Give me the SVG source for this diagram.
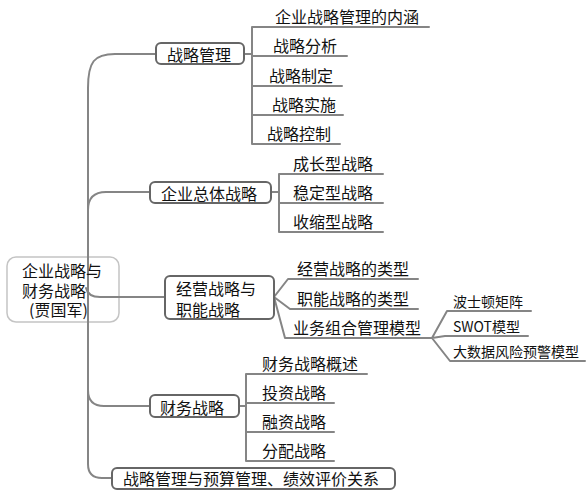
<svg xmlns="http://www.w3.org/2000/svg" width="587" height="495" viewBox="0 0 587 495">
<style>
.bg{fill:#ffffff}
.box{fill:#ffffff;stroke:#666666;stroke-width:2}
.root{fill:#ffffff;stroke:#c4c4c4;stroke-width:1.5}
.ln{fill:none;stroke:#858585;stroke-width:2;stroke-linecap:round;stroke-linejoin:round}
.t{font-family:"Microsoft YaHei","Noto Sans CJK SC","Noto Sans",sans-serif;font-size:16px;fill:#111111}
.s{font-size:14px}
</style>
<rect class="bg" x="0" y="0" width="587" height="495"/>
<g id="root">
<rect class="root" x="7" y="257" width="112" height="65" rx="9"/>
</g>
<g id="connectors">
<path class="ln" d="M88 290 L88 88 C88 62 94 54 115 54 L156 54"/>
<path class="ln" d="M88 290 L88 210 Q88 192 106 192 L150 192"/>
<path class="ln" d="M86 288 Q88 297 100 297 L165 297"/>
<path class="ln" d="M88 290 L88 390 Q88 406 104 406 L150 406"/>
<path class="ln" d="M88 290 L88 464 Q88 478 102 478 L112 478"/>
<path class="ln" d="M244 54 L252 54 M252 27 L252 144 M252 27 L429 27 M252 56 L347 56 M252 86 L342 86 M252 115 L343 115 M252 144 L340 144"/>
<path class="ln" d="M271 192 L279 192 M279 174 L279 232 M279 174 L383 174 M279 203 L383 203 M279 232 L383 232"/>
<path class="ln" d="M274 297 L288 279 L418 279 M274 297 L290 309 L418 309 M274 297 L285 338 L432 338"/>
<path class="ln" d="M432 338 L447 311 L531 311 M432 338 L445 336 L528 336 M432 338 L450 361 L585 361"/>
<path class="ln" d="M239 406 L246 406 M246 374 L246 461 M246 374 L367 374 M246 403 L334 403 M246 432 L334 432 M246 461 L334 461"/>
</g>
<g id="root-text">
<text class="t"><tspan x="22" y="277">企业战略与</tspan><tspan x="22" y="297">财务战略</tspan><tspan x="29" y="316">(贾国军)</tspan></text>
</g>
<g id="n-zlgl">
<rect class="box" x="156" y="43" width="88" height="21" rx="5"/>
<text class="t" x="167" y="61">战略管理</text>
</g>
<g id="n-qyztzl">
<rect class="box" x="150" y="182" width="121" height="21" rx="5"/>
<text class="t" x="161" y="200">企业总体战略</text>
</g>
<g id="n-jyzl">
<rect class="box" x="165" y="276" width="109" height="43" rx="5"/>
<text class="t"><tspan x="176" y="295">经营战略与</tspan><tspan x="176" y="316">职能战略</tspan></text>
</g>
<g id="n-cwzl">
<rect class="box" x="150" y="395" width="89" height="22" rx="5"/>
<text class="t" x="160" y="414">财务战略</text>
</g>
<g id="n-gx">
<rect class="box" x="112" y="468" width="283" height="21" rx="5"/>
<text class="t" x="123" y="485">战略管理与预算管理、绩效评价关系</text>
</g>
<g id="n-nh"><text class="t" x="275" y="23">企业战略管理的内涵</text></g>
<g id="n-fx"><text class="t" x="273" y="52">战略分析</text></g>
<g id="n-zd"><text class="t" x="269" y="82">战略制定</text></g>
<g id="n-ss"><text class="t" x="272" y="111">战略实施</text></g>
<g id="n-kz"><text class="t" x="267" y="140">战略控制</text></g>
<g id="n-czx"><text class="t" x="293" y="170">成长型战略</text></g>
<g id="n-wdx"><text class="t" x="293" y="199">稳定型战略</text></g>
<g id="n-ssx"><text class="t" x="293" y="228">收缩型战略</text></g>
<g id="n-jylx"><text class="t" x="297" y="275">经营战略的类型</text></g>
<g id="n-znlx"><text class="t" x="297" y="305">职能战略的类型</text></g>
<g id="n-ywzh"><text class="t" x="293" y="334">业务组合管理模型</text></g>
<g id="n-bsd"><text class="t s" x="453" y="307">波士顿矩阵</text></g>
<g id="n-swot"><text class="t s" x="453" y="332">SWOT模型</text></g>
<g id="n-dsj"><text class="t s" x="453" y="357">大数据风险预警模型</text></g>
<g id="n-gs"><text class="t" x="262" y="370">财务战略概述</text></g>
<g id="n-tz"><text class="t" x="262" y="399">投资战略</text></g>
<g id="n-rz"><text class="t" x="262" y="428">融资战略</text></g>
<g id="n-fp"><text class="t" x="262" y="457">分配战略</text></g>
</svg>
